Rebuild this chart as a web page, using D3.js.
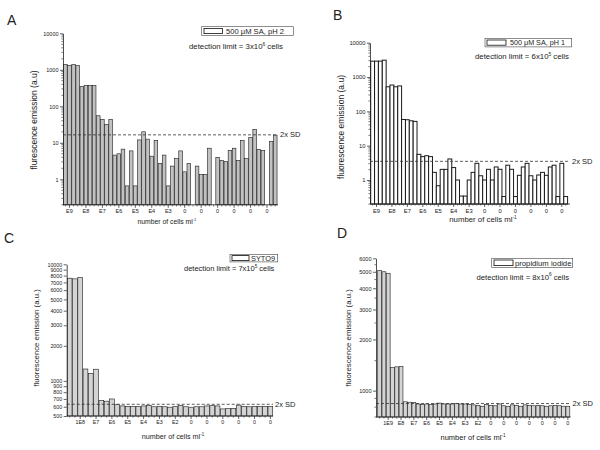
<!DOCTYPE html>
<html>
<head>
<meta charset="utf-8">
<script src="https://cdn.jsdelivr.net/npm/d3@7"></script>
<style>
  body { margin: 0; background: #fff; }
  svg { display: block; }
  text { font-family: Arial, "Liberation Sans", sans-serif; fill: #222; }
</style>
</head>
<body>
<svg id="chart" width="600" height="450"></svg>
<script>
// ---- data ----
const labelsA = ["E9","E8","E7","E6","E5","E4","E3","0","0","0","0","0","0"];
const valuesA = [1400,1300,1400,1300, 348,370,370,370, 55,44,32,44, 4.6,5,6.7,0.66,
  6,0.66,12,20, 12.6,4.3,11.6,2.7, 4.6,0.66,2.3,3.7, 6,1.6,2.7,0,
  2.3,1.35,1.35,7.1, 0,4.0,3.3,3.05, 6.1,7.1,3.3,11.5, 3.7,13.9,23.4,6.6,
  6.1,0,10.8,16.3];
const sdA = 16.5;

const labelsB = ["E9","E8","E7","E6","E5","E4","E3","0","0","0","0","0","0"];
const valuesB = [2900,2900,2900,3100, 520,585,520,550, 58,57,53,51, 5.6,4.8,5.1,4.8,
  1.67,0.68,2.04,2.04, 4.1,2.3,1.0,0.34, 0.34,1.0,1.67,3.06, 1.33,1.0,2.05,1.0,
  2.4,2.05,0.33,2.7, 2.05,0.33,1.37,2.4, 3.06,1.33,1.0,1.4, 1.67,1.37,2.4,2.7,
  0.33,3.06,0.33];
const sdB = 3.5;

const labelsC = ["1E8","E7","E6","E5","E4","E3","E2","0","0","0","0","0","0"];
const valuesC = [7600,7500,7700, 1265,1160,1260, 680,670,700, 625,610,605,
  605,605,610, 615,600,605, 600,595,605, 615,600,595, 600,600,610,
  615,610,575, 578,582,620, 605,600,605, 605,605,605];
const sdC = 630;

const labelsD = ["1E9","E8","E7","E6","E5","E4","E3","E2","0","0","0","0","0","0","0"];
const valuesD = [5100,5000,4900, 1365,1380,1390, 860,855,850, 835,830,835,
  830,835,845, 835,835,835, 840,835,835, 830,825,820, 810,830,820,
  815,835,815, 810,825,820, 810,825,820, 815,820,815, 810,815,820, 815,810,810];
const sdD = 840;

const ticksAB = [1, 10, 100, 1000, 10000];
const ticksC = [500,600,700,800,900,1000,2000,3000,4000,5000,6000,7000,8000,9000,10000];
const ticksD = [1000,2000,3000,4000,5000,6000];
const minorD = [700,800,900,1500,2500,3500,4500,5500];

const svg = d3.select("#chart");

function logMinors(lo, hi) {
  const out = [];
  for (let e = -1; e <= 4; e++) {
    for (let m = 2; m <= 9; m++) {
      const v = m * Math.pow(10, e);
      if (v >= lo && v <= hi) out.push(v);
    }
  }
  return out;
}

function sup(text, base, supText, size) {
  text.append("tspan").text(base);
  text.append("tspan").attr("dy", -size * 0.4).attr("font-size", size * 0.62).text(supText);
}

function drawPanel(p) {
  const g = svg.append("g");
  const n = p.values.length;

  const x = d3.scaleBand().domain(d3.range(n)).range([p.x0, p.x1])
    .paddingInner(p.pad).paddingOuter(p.pad / 2);
  const y = d3.scaleLog().domain(p.domain).range([p.yBot, p.yTop]);

  // bars
  g.selectAll("rect.bar")
    .data(p.values.map((v, i) => ({ v, i })).filter(d => d.v > 0))
    .join("rect")
    .attr("class", "bar")
    .attr("x", d => x(d.i))
    .attr("width", x.bandwidth())
    .attr("y", d => y(d.v))
    .attr("height", d => p.yBot - y(d.v))
    .attr("fill", p.fill)
    .attr("stroke", "#1a1a1a")
    .attr("stroke-width", p.sw);

  // y axis
  const yAxis = d3.axisLeft(y).tickValues(p.yTicks).tickFormat(d3.format("d"))
    .tickSize(3).tickSizeOuter(0).tickPadding(1.5);
  const ya = g.append("g").attr("transform", `translate(${p.axisX},0)`).call(yAxis);
  ya.attr("font-size", p.tickSize).attr("font-family", "Arial, 'Liberation Sans', sans-serif");
  ya.select(".domain").attr("stroke", "#222").attr("stroke-width", 0.8);
  ya.selectAll(".tick line").attr("stroke", "#222").attr("stroke-width", 0.7);

  g.selectAll("line.yminor").data(p.yMinor).join("line")
    .attr("x1", p.axisX - 1.6).attr("x2", p.axisX)
    .attr("y1", d => y(d)).attr("y2", d => y(d))
    .attr("stroke", "#222").attr("stroke-width", 0.6);

  // x axis
  const tickIdx = d3.range(p.first, n, p.step);
  const xAxis = d3.axisBottom(x).tickValues(tickIdx).tickFormat((d, j) => p.labels[j])
    .tickSize(3).tickSizeOuter(0).tickPadding(1.5);
  const xa = g.append("g").attr("transform", `translate(0,${p.yBot})`).call(xAxis);
  xa.attr("font-size", p.tickSize).attr("font-family", "Arial, 'Liberation Sans', sans-serif");
  xa.select(".domain").remove();
  xa.selectAll(".tick line").attr("stroke", "#222").attr("stroke-width", 0.7);
  g.append("line").attr("x1", p.axisX).attr("x2", p.axisEnd)
    .attr("y1", p.yBot).attr("y2", p.yBot).attr("stroke", "#222").attr("stroke-width", 0.8);
  g.selectAll("line.xminor").data(d3.range(n).filter(i => !tickIdx.includes(i))).join("line")
    .attr("x1", d => x(d) + x.bandwidth() / 2).attr("x2", d => x(d) + x.bandwidth() / 2)
    .attr("y1", p.yBot).attr("y2", p.yBot + 1.6)
    .attr("stroke", "#222").attr("stroke-width", 0.6);

  // 2x SD dashed line
  g.append("line").attr("x1", p.axisX).attr("x2", p.axisEnd)
    .attr("y1", y(p.sd)).attr("y2", y(p.sd))
    .attr("stroke", "#333").attr("stroke-width", 0.8).attr("stroke-dasharray", "3,2");
  g.append("text").attr("x", p.axisEnd + 2).attr("y", y(p.sd) + p.sdSize * 0.35)
    .attr("font-size", p.sdSize).text("2x SD");

  // axis titles
  g.append("text")
    .attr("transform", `translate(${p.yTitle[0]},${p.yTitle[1]}) rotate(-90)`)
    .attr("text-anchor", "middle").attr("font-size", p.yTitleSize).text(p.yTitleText);
  const xt = g.append("text").attr("x", p.xTitle[0]).attr("y", p.xTitle[1])
    .attr("text-anchor", "middle").attr("font-size", p.xTitleSize);
  sup(xt, "number of cells ml", "-1", p.xTitleSize);

  // panel letter
  g.append("text").attr("x", p.letterPos[0]).attr("y", p.letterPos[1])
    .attr("font-size", 14).attr("fill", "#111").text(p.letter);

  // legend
  const L = p.legend;
  g.append("rect").attr("x", L.box[0]).attr("y", L.box[1]).attr("width", L.box[2]).attr("height", L.box[3])
    .attr("fill", "#fff").attr("stroke", "#444").attr("stroke-width", 0.6);
  g.append("rect").attr("x", L.swatch[0]).attr("y", L.swatch[1]).attr("width", L.swatch[2]).attr("height", L.swatch[3])
    .attr("fill", "#fff").attr("stroke", "#111").attr("stroke-width", 0.8);
  g.append("text").attr("x", L.textX).attr("y", L.textY).attr("font-size", L.size).text(p.legendText);

  const dt = g.append("text").attr("x", p.det[0]).attr("y", p.det[1]).attr("font-size", p.det[2]);
  dt.append("tspan").text("detection limit = " + p.detBase);
  dt.append("tspan").attr("dy", -p.det[2] * 0.4).attr("font-size", p.det[2] * 0.62).text(p.detExp);
  dt.append("tspan").attr("dy", p.det[2] * 0.4).text(" cells");
}

drawPanel({
  letter: "A", letterPos: [7, 25], values: valuesA, labels: labelsA, first: 1, step: 4,
  domain: [0.2, 10000], yTicks: ticksAB, yMinor: logMinors(0.2, 10000), sd: sdA,
  axisX: 63, axisEnd: 278, x0: 63.3, x1: 277.3, yTop: 33.3, yBot: 204.8, pad: 0.12,
  fill: "#c2c2c2", sw: 0.6, tickSize: 5.5, sdSize: 7.5,
  yTitle: [37, 120], yTitleSize: 8.5, yTitleText: "flurescence emission (a.u)",
  xTitle: [167, 223.5], xTitleSize: 6.8,
  legend: { box: [201.7, 26.7, 91.6, 8.6], swatch: [204, 28.4, 18.5, 5.2], textX: 226, textY: 33.7, size: 7.6 },
  legendText: "500 \u03bcM SA, pH 2",
  det: [189, 49, 7.8], detBase: "3x10", detExp: "6"
});

drawPanel({
  letter: "B", letterPos: [333, 19.5], values: valuesB, labels: labelsB, first: 1, step: 4,
  domain: [0.2, 10000], yTicks: ticksAB, yMinor: logMinors(0.2, 10000), sd: sdB,
  axisX: 370, axisEnd: 570, x0: 370.7, x1: 567.6, yTop: 42.7, yBot: 204, pad: 0.0,
  fill: "#ffffff", sw: 1.0, tickSize: 5.8, sdSize: 7.5,
  yTitle: [343.5, 127], yTitleSize: 8.5, yTitleText: "fluorescence emission (a.u)",
  xTitle: [483, 222], xTitleSize: 7.8,
  legend: { box: [485, 38.3, 86.7, 8.6], swatch: [487, 40, 19, 5.2], textX: 510, textY: 45.4, size: 7.2 },
  legendText: "500 \u03bcM SA, pH 1",
  det: [475, 59, 7.8], detBase: "6x10", detExp: "5"
});

drawPanel({
  letter: "C", letterPos: [4, 243], values: valuesC, labels: labelsC, first: 2, step: 3,
  domain: [500, 10000], yTicks: ticksC, yMinor: [], sd: sdC,
  axisX: 66.7, axisEnd: 273, x0: 67, x1: 273, yTop: 264.3, yBot: 416, pad: 0.1,
  fill: "#d4d4d4", sw: 0.6, tickSize: 5.3, sdSize: 7.5,
  yTitle: [38.5, 338], yTitleSize: 7.8, yTitleText: "fluorescence emission (a.u.)",
  xTitle: [173, 438.5], xTitleSize: 7.2,
  legend: { box: [230, 254.3, 47.7, 7.6], swatch: [232, 255.6, 17, 5], textX: 251, textY: 260.8, size: 7.4 },
  legendText: "SYTO9",
  det: [184, 270.5, 7.5], detBase: "7x10", detExp: "5"
});

drawPanel({
  letter: "D", letterPos: [337, 238], values: valuesD, labels: labelsD, first: 2, step: 3,
  domain: [700, 6000], yTicks: ticksD, yMinor: minorD, sd: sdD,
  axisX: 376, axisEnd: 570.5, x0: 377.5, x1: 570, yTop: 258.3, yBot: 417, pad: 0.1,
  fill: "#d4d4d4", sw: 0.6, tickSize: 5.5, sdSize: 7.5,
  yTitle: [351, 338], yTitleSize: 7.8, yTitleText: "fluorescence emission (a.u.)",
  xTitle: [473, 439.5], xTitleSize: 7.5,
  legend: { box: [491.7, 258.3, 81, 9], swatch: [494, 260, 19, 5.6], textX: 515, textY: 265.8, size: 7.7 },
  legendText: "propidium iodide",
  det: [476.5, 279.5, 7.7], detBase: "8x10", detExp: "6"
});
</script>
</body>
</html>
